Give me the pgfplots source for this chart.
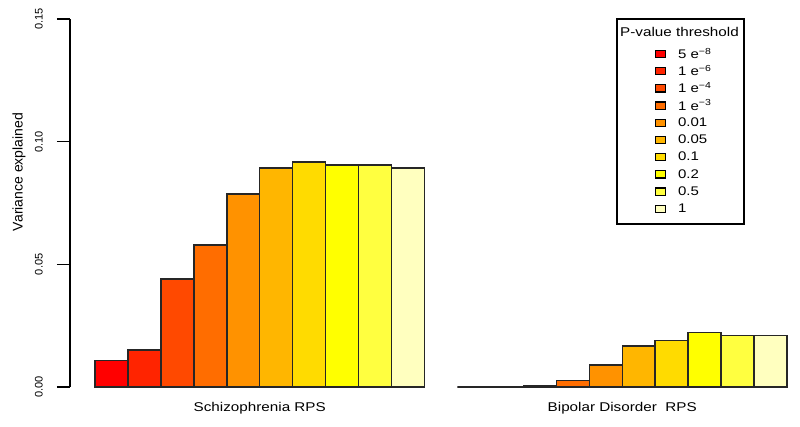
\documentclass[border=0pt]{standalone}
\usepackage{fontspec}
\setmainfont{Liberation Sans}
\newfontfamily\wide[FakeStretch=1.2]{Liberation Sans}
\usepackage{pgfplots}
\pgfplotsset{compat=1.18}
\definecolor{h1}{HTML}{FF0000}
\definecolor{h2}{HTML}{FF2400}
\definecolor{h3}{HTML}{FF4900}
\definecolor{h4}{HTML}{FF6D00}
\definecolor{h5}{HTML}{FF9200}
\definecolor{h6}{HTML}{FFB600}
\definecolor{h7}{HTML}{FFDB00}
\definecolor{h8}{HTML}{FFFF00}
\definecolor{h9}{HTML}{FFFF40}
\definecolor{h10}{HTML}{FFFFBF}
\pgfplotsset{mybar/.style={fill=#1, draw=black!85, line width=1.4pt,
  legend image code/.code={\draw[fill=#1, draw=black, line width=1.1pt] (0pt,-3.6pt) rectangle (10pt,3.6pt);}}}
\begin{document}
\begin{tikzpicture}
\useasboundingbox (0,0) rectangle (800pt,426pt);
\begin{axis}[
  at={(70pt,39pt)}, anchor=south west,
  scale only axis, width=717pt, height=368pt,
  xmin=-1.259, xmax=20.5, ymin=0, ymax=0.15,
  axis y line*=left, axis x line*=bottom,
  x axis line style={draw=none},
  y axis line style={line width=1.3pt, black},
  ybar, bar width=1, bar shift=0pt,
  xtick={4.5,15.5},
  xticklabels={Schizophrenia RPS, Bipolar Disorder\ \ RPS},
  xtick style={draw=none},
  xticklabel style={font=\wide\fontsize{12.7}{14}\selectfont, inner sep=0pt, anchor=north},
  ytick={0,0.05,0.10,0.15},
  yticklabels={0.00,0.05,0.10,0.15},
  tick align=outside, major tick length=13pt,
  ytick style={line width=1.3pt, draw=black},
  yticklabel style={rotate=90, anchor=south, inner sep=0pt, font=\fontsize{11}{12}\selectfont},
  yticklabel shift=14pt, xticklabel shift=2.5pt,
  every axis y label/.style={at={(axis description cs:-0.0711,0.5842)}, rotate=90, anchor=center, font=\fontsize{14}{16}\selectfont},
  ylabel={Variance explained},
  legend style={at={(0.8159,0.9283)}, anchor=north west, draw=none, fill=none,
    inner sep=0pt, outer sep=0pt, row sep=0pt, column sep=12pt,
    font=\wide\fontsize{12.5}{14}\selectfont,
    nodes={inner sep=0pt, minimum height=17.2pt}},
  legend cell align=left,
  clip=false,
]
\addplot[mybar=h1] coordinates {(0,0.0108) (11,0)};
\addlegendentry{5 e\textsuperscript{−8}}
\addplot[mybar=h2] coordinates {(1,0.0151) (12,0.0001)};
\addlegendentry{1 e\textsuperscript{−6}}
\addplot[mybar=h3] coordinates {(2,0.0440) (13,0.0007)};
\addlegendentry{1 e\textsuperscript{−4}}
\addplot[mybar=h4] coordinates {(3,0.0579) (14,0.0027)};
\addlegendentry{1 e\textsuperscript{−3}}
\addplot[mybar=h5] coordinates {(4,0.0787) (15,0.0090)};
\addlegendentry{0.01}
\addplot[mybar=h6] coordinates {(5,0.0893) (16,0.0167)};
\addlegendentry{0.05}
\addplot[mybar=h7] coordinates {(6,0.0917) (17,0.0190)};
\addlegendentry{0.1}
\addplot[mybar=h8] coordinates {(7,0.0905) (18,0.0221)};
\addlegendentry{0.2}
\addplot[mybar=h9] coordinates {(8,0.0905) (19,0.0209)};
\addlegendentry{0.5}
\addplot[mybar=h10] coordinates {(9,0.0893) (20,0.0209)};
\addlegendentry{1}
\end{axis}
\node[anchor=west, font=\wide\fontsize{12.7}{14}\selectfont, inner sep=0pt] at (620pt,394pt) {P-value threshold};
\draw[line width=1.2pt] (617pt,202pt) rectangle (744pt,407pt);
\end{tikzpicture}
\end{document}
